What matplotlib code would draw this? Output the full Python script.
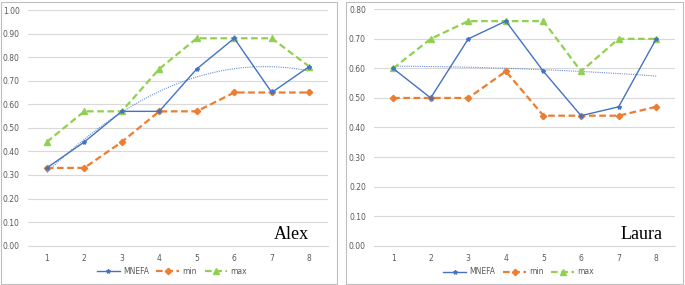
import numpy as np
import matplotlib
matplotlib.use("Agg")
import matplotlib.pyplot as plt
from matplotlib.patches import Rectangle

trials = [1, 2, 3, 4, 5, 6, 7, 8]

alex_mnefa = [0.33, 0.44, 0.57, 0.57, 0.75, 0.88, 0.65, 0.76]
alex_min = [0.33, 0.33, 0.44, 0.57, 0.57, 0.65, 0.65, 0.65]
alex_max = [0.44, 0.57, 0.57, 0.75, 0.88, 0.88, 0.88, 0.76]

laura_mnefa = [0.60, 0.50, 0.70, 0.76, 0.59, 0.44, 0.47, 0.70]
laura_min = [0.50, 0.50, 0.50, 0.59, 0.44, 0.44, 0.44, 0.47]
laura_max = [0.60, 0.70, 0.76, 0.76, 0.76, 0.59, 0.70, 0.70]

BLUE = "#4472C4"
ORANGE = "#ED7D31"
GREEN = "#92D050"
GRID = "#D9D9D9"
TXT = "#595959"

W, H = 685, 285
fig = plt.figure(figsize=(W / 100, H / 100), dpi=100)


def px_axes(x0, y0, x1, y1):
    # pixel box (top-left origin) -> figure fraction
    return fig.add_axes([x0 / W, 1 - y1 / H, (x1 - x0) / W, (y1 - y0) / H])


def panel(ax, mnefa, lo, hi, ymax, name, name_x):
    x = np.array(trials)
    ax.plot(x, mnefa, color=BLUE, lw=1.0, marker="*", ms=3, label="MNEFA", zorder=4)
    ax.plot(x, lo, color=ORANGE, lw=1.6, ls=(0, (3, 1.6)), marker="D", ms=3.2, label="min", zorder=3)
    ax.plot(x, hi, color=GREEN, lw=1.6, ls=(0, (3, 1.6)), marker="^", ms=4.2, label="max", zorder=3)
    # polynomial trendline of MNEFA
    coef = np.polyfit(x, mnefa, 2)
    xs = np.linspace(1, 8, 100)
    ax.plot(xs, np.polyval(coef, xs), color=BLUE, lw=0.8, ls=(0, (1, 1)), alpha=0.8, zorder=2)

    ax.set_xlim(0.5, 8.5)
    ax.set_ylim(0, ymax)
    ax.set_yticks(np.arange(0, ymax + 0.001, 0.1))
    ax.set_yticklabels([f"{v:.2f}" for v in np.arange(0, ymax + 0.001, 0.1)])
    ax.set_xticks(x)
    ax.grid(axis="y", color=GRID, lw=0.8)
    ax.set_axisbelow(True)
    for s in ["top", "right", "left"]:
        ax.spines[s].set_visible(False)
    ax.spines["bottom"].set_color(GRID)
    ax.tick_params(length=0, labelsize=5.5, labelcolor=TXT)
    ax.tick_params(axis="y", pad=6)
    ax.tick_params(axis="x", pad=6)
    ax.text(name_x, 0.03, name, transform=ax.transAxes, ha="right", va="baseline",
            fontsize=13, family="Liberation Serif")
    ax.legend(loc="center", bbox_to_anchor=(0.48, -0.11), ncol=3, frameon=False,
              fontsize=5.5, labelcolor=TXT, handlelength=3.0, columnspacing=1.0,
              handletextpad=0.4)


ax1 = px_axes(28, 10, 328, 245.7)
panel(ax1, alex_mnefa, alex_min, alex_max, 1.0, "Alex", 0.935)

ax2 = px_axes(374.3, 9.3, 675, 245.7)
panel(ax2, laura_mnefa, laura_min, laura_max, 0.8, "Laura", 0.957)

for x0, x1 in [(1, 337), (346, 683)]:
    fig.patches.append(Rectangle((x0 / W, 1 / H), (x1 - x0) / W, (H - 3) / H,
                                 transform=fig.transFigure, fill=False,
                                 edgecolor="#BFBFBF", lw=0.8))

fig.savefig("out.png", dpi=100)
